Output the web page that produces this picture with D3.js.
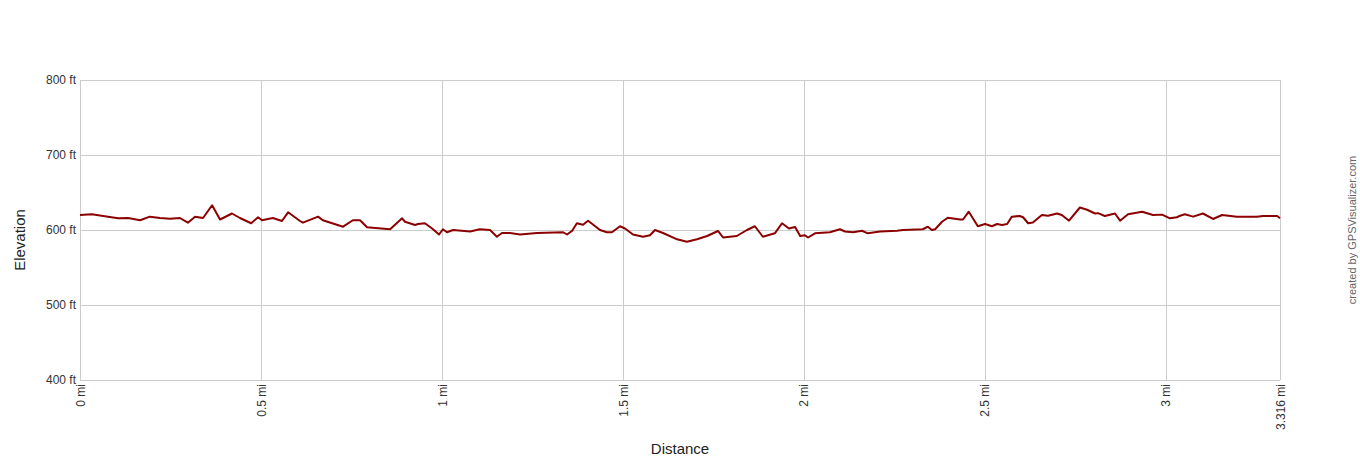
<!DOCTYPE html>
<html><head><meta charset="utf-8">
<script src="https://cdn.jsdelivr.net/npm/d3@7"></script>
<style>body{margin:0;background:#fff}svg{display:block}text{font-family:"Liberation Sans",Arial,sans-serif}</style>
</head><body>
<script>
const distances = [0,0.033,0.064,0.105,0.133,0.166,0.193,0.221,0.249,0.276,0.298,0.318,0.340,0.365,0.387,0.420,0.442,0.473,0.492,0.503,0.533,0.558,0.575,0.608,0.616,0.658,0.671,0.727,0.754,0.774,0.793,0.857,0.890,0.898,0.926,0.934,0.953,0.973,0.992,1.003,1.014,1.031,1.078,1.105,1.133,1.152,1.166,1.188,1.216,1.263,1.335,1.346,1.360,1.373,1.390,1.404,1.437,1.456,1.470,1.492,1.506,1.528,1.556,1.575,1.589,1.611,1.650,1.677,1.705,1.733,1.763,1.777,1.815,1.843,1.865,1.887,1.920,1.940,1.959,1.976,1.990,2.003,2.012,2.031,2.072,2.100,2.114,2.136,2.161,2.177,2.211,2.258,2.274,2.329,2.343,2.354,2.363,2.382,2.398,2.432,2.440,2.456,2.481,2.501,2.520,2.534,2.548,2.562,2.575,2.597,2.606,2.620,2.633,2.658,2.675,2.700,2.713,2.733,2.763,2.783,2.805,2.813,2.832,2.860,2.874,2.896,2.935,2.965,2.990,3.012,3.031,3.040,3.053,3.076,3.103,3.131,3.156,3.197,3.252,3.269,3.308,3.316];
const elevations = [620,621,618.7,615.6,616,613,617.8,616,615,616,609.8,617.8,616,633,614,622,616,609,617,613,616,612,623.6,612,609.8,617.8,613,604.4,613,613,603.6,601,615.6,611,606.7,608,609,602,594,601,597,600,598,601,600,591,596,596,594,596,597,594,599,609,607,612.4,600,597,597,605,602,594,591,593,600,596,587.6,584.4,587.6,592,598.7,590,592,600,605,591,595.6,609,602,604,592,593,590,595.6,597,601,598,597,599,595.6,598,599,600,601,604.4,600,601,611,616.4,614,614,624.4,605,608,605,608,606.7,608,617.8,618.7,617,609,610,620,619,622,620,612.4,630,627,622,622.5,618.7,622,612.4,621,624.4,620,620.5,615.6,617,619,621,617.8,622,614.7,620,617.6,617.6,618.7,618.7,615.6];
const xTickValues = [0,0.5,1,1.5,2,2.5,3,3.316];
const xTickLabels = ["0 mi","0.5 mi","1 mi","1.5 mi","2 mi","2.5 mi","3 mi","3.316 mi"];
const yTickValues = [400,500,600,700,800];
const yTickLabels = ["400 ft","500 ft","600 ft","700 ft","800 ft"];

const W=1360,H=460, L=80,R=1280,T=80,B=380;
const svg=d3.select("body").append("svg").attr("width",W).attr("height",H);
const x=d3.scaleLinear().domain([0,3.316]).range([L,R]);
const y=d3.scaleLinear().domain([400,800]).range([B,T]);

// grid
const g=svg.append("g");
g.selectAll(".hg").data(yTickValues).enter().append("line")
 .attr("x1",L).attr("x2",R).attr("y1",d=>Math.round(y(d))+0.5).attr("y2",d=>Math.round(y(d))+0.5)
 .attr("stroke","#cccccc").attr("stroke-width",1);
g.selectAll(".vg").data(xTickValues).enter().append("line")
 .attr("y1",T).attr("y2",B).attr("x1",d=>Math.round(x(d))+0.5).attr("x2",d=>Math.round(x(d))+0.5)
 .attr("stroke","#cccccc").attr("stroke-width",1);

// y axis labels
const ya=d3.axisLeft(y).tickValues(yTickValues).tickFormat((d,i)=>yTickLabels[i]).tickSize(0).tickPadding(4);
const yg=svg.append("g").attr("transform",`translate(${L},0)`).call(ya);
yg.select(".domain").remove();
yg.selectAll("text").attr("font-size",12).attr("fill","#333").style("font-family","'Liberation Sans',Arial,sans-serif");

// x axis labels (rotated)
const xa=d3.axisBottom(x).tickValues(xTickValues).tickFormat((d,i)=>xTickLabels[i]).tickSize(0);
const xg=svg.append("g").attr("transform",`translate(0,${B})`).call(xa);
xg.select(".domain").remove();
xg.selectAll("text").attr("font-size",12).attr("fill","#333")
  .style("font-family","'Liberation Sans',Arial,sans-serif")
  .attr("transform","rotate(-90)").attr("text-anchor","end").attr("dy","0.35em").attr("x",-4).attr("y",0);

// line
const line=d3.line().x((d,i)=>x(distances[i])).y(d=>y(d));
svg.append("path").datum(elevations).attr("d",line).attr("fill","none")
 .attr("stroke","#8b0000").attr("stroke-width",2).attr("stroke-linejoin","round");

// titles
svg.append("text").attr("x",680).attr("y",454).attr("text-anchor","middle").attr("font-size",15).attr("fill","#222").text("Distance");
svg.append("text").attr("transform","translate(25,240) rotate(-90)").attr("text-anchor","middle").attr("font-size",15).attr("fill","#222").text("Elevation");
svg.append("text").attr("transform","translate(1356,230) rotate(-90)").attr("text-anchor","middle").attr("font-size",11).attr("fill","#666").text("created by GPSVisualizer.com");
</script>
</body></html>
